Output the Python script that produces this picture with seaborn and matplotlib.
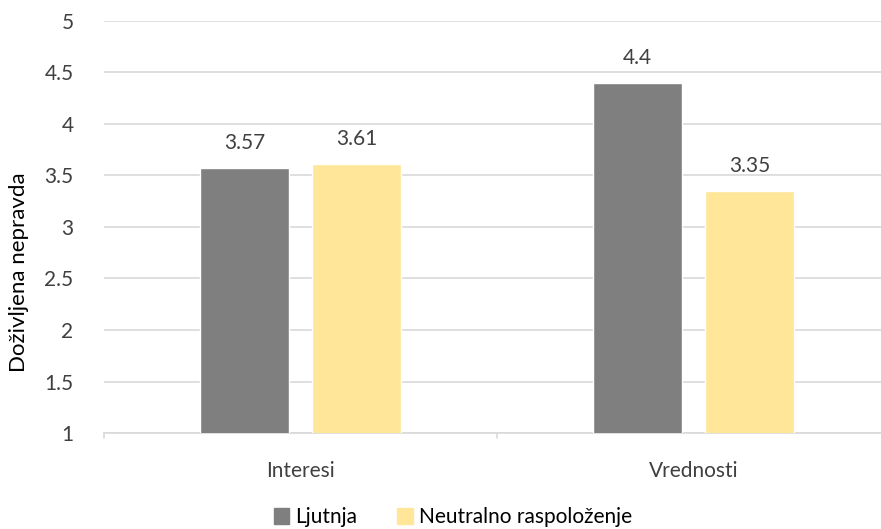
import matplotlib.pyplot as plt
import seaborn as sns
import pandas as pd

# data
categories = ["Interesi", "Vrednosti"]
series_names = ["Ljutnja", "Neutralno raspoloženje"]
ljutnja = [3.57, 4.4]
neutralno = [3.61, 3.35]
y_ticks = [1, 1.5, 2, 2.5, 3, 3.5, 4, 4.5, 5]

df = pd.DataFrame({
    "Kategorija": categories * 2,
    "Grupa": [series_names[0]] * 2 + [series_names[1]] * 2,
    "Vrednost": ljutnja + neutralno,
})

sns.set_style("white")
plt.rcParams["font.family"] = ["Lato", "DejaVu Sans"]
text_color = "#404040"
fs = 15

fig = plt.figure(figsize=(8.81, 5.29), dpi=100)
ax = fig.add_axes([104 / 881, 96 / 529, 786 / 881, 412 / 529])

palette = {series_names[0]: "#7f7f7f", series_names[1]: "#ffe699"}
sns.barplot(data=df, x="Kategorija", y="Vrednost", hue="Grupa", palette=palette,
            saturation=1, width=0.57, gap=0.21, ax=ax, legend=False, zorder=3)

# value labels
for cont in ax.containers:
    ax.bar_label(cont, labels=[f"{v:g}" for v in cont.datavalues], padding=11,
                 fontsize=fs, color=text_color)

ax.set_ylim(1, 5)
ax.set_xlim(-0.5, 1.5)
ax.set_yticks(y_ticks)
ax.set_yticklabels([f"{t:g}" for t in y_ticks], fontsize=fs, color=text_color)
ax.tick_params(axis="y", length=0, pad=22)
ax.tick_params(axis="x", length=0, pad=20, labelsize=fs, labelcolor=text_color)
ax.grid(axis="y", color="#d9d9d9", linewidth=1.2, zorder=0)
for side in ["top", "right", "left"]:
    ax.spines[side].set_visible(False)
ax.spines["bottom"].set_color("#d9d9d9")
ax.spines["bottom"].set_linewidth(1.2)

# category separator ticks
for xpos in [-0.5, 0.5, 1.5]:
    ax.plot([xpos, xpos], [1, 0.95], color="#d9d9d9", lw=1.2, clip_on=False)

ax.set_xlabel("")
ax.set_ylabel("Doživljena nepravda", fontsize=16, color="black")
ax.yaxis.set_label_coords(-0.095, 0.39)

handles = [plt.Rectangle((0, 0), 1, 1, color=palette[n]) for n in series_names]
fig.legend(handles, series_names, loc="center", bbox_to_anchor=(0.514, 0.022),
           ncol=2, frameon=False, fontsize=fs, handlelength=0.75, handleheight=0.75,
           columnspacing=1.9, handletextpad=0.3, labelcolor="black")

fig.savefig("out.png", dpi=100)
